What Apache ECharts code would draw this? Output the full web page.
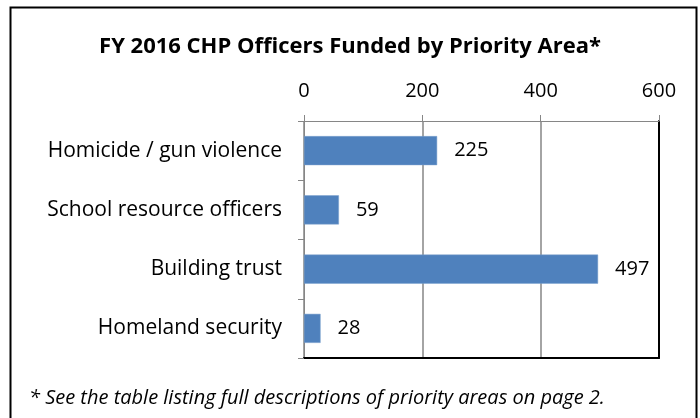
<!DOCTYPE html>
<html>
<head>
<meta charset="utf-8">
<script src="https://cdn.jsdelivr.net/npm/echarts@6/dist/echarts.min.js"></script>
<style>
  html, body { margin: 0; padding: 0; background: #fff; }
  #container { width: 700px; height: 418px; }
</style>
</head>
<body>
<div id="container"></div>
<script>
var categories = ['Homicide / gun violence', 'School resource officers', 'Building trust', 'Homeland security'];
var officers = [225, 59, 497, 28];
var xTicks = [0, 200, 400, 600];

var FONT = 'Open Sans';

var chart = echarts.init(document.getElementById('container'), null, { renderer: 'canvas' });

var option = {
  animation: false,
  backgroundColor: '#fff',
  title: {
    text: 'FY 2016 CHP Officers Funded by Priority Area*',
    left: 'center',
    top: 31,
    textStyle: { fontFamily: FONT, fontWeight: 'bold', fontSize: 22, color: '#000' }
  },
  graphic: [
    {
      type: 'rect',
      left: 8, top: 5,
      shape: { width: 686, height: 430 },
      style: { fill: 'none', stroke: '#000', lineWidth: 2 }
    },
    {
      type: 'text',
      left: 29, top: 388,
      style: {
        text: '* See the table listing full descriptions of priority areas on page 2.',
        font: 'italic 20px ' + FONT,
        fill: '#000'
      }
    }
  ],
  grid: { left: 304, right: 41, top: 121, bottom: 60, containLabel: false },
  xAxis: [
    {
      type: 'value',
      position: 'top',
      min: xTicks[0],
      max: xTicks[xTicks.length - 1],
      interval: 200,
      axisLine: { show: true, onZero: false, lineStyle: { color: '#868686' } },
      axisTick: { show: true, length: 6, lineStyle: { color: '#868686' } },
      axisLabel: { fontFamily: FONT, fontSize: 20, color: '#000', margin: 20 },
      splitLine: { show: true, lineStyle: { color: '#868686', width: 1.5 } }
    },
    {
      type: 'value',
      position: 'bottom',
      min: 0, max: 600,
      axisLine: { show: true, onZero: false, lineStyle: { color: '#000', width: 2 } },
      axisTick: { show: false },
      axisLabel: { show: false },
      splitLine: { show: false }
    }
  ],
  yAxis: [
    {
      type: 'category',
      inverse: true,
      data: categories,
      axisLine: { show: true, onZero: false, lineStyle: { color: '#868686' } },
      axisTick: { show: true, length: 6, lineStyle: { color: '#868686' } },
      axisLabel: { fontFamily: FONT, fontSize: 21, color: '#000', margin: 22 }
    },
    {
      type: 'category',
      position: 'right',
      inverse: true,
      data: categories,
      axisLine: { show: true, onZero: false, lineStyle: { color: '#000', width: 2 } },
      axisTick: { show: false },
      axisLabel: { show: false }
    }
  ],
  series: [
    {
      type: 'bar',
      data: officers,
      barCategoryGap: '51%',
      itemStyle: { color: '#4F81BD', borderColor: '#7BA0CD', borderWidth: 0.5 },
      label: {
        show: true,
        position: 'right',
        distance: 17,
        fontFamily: FONT,
        fontSize: 20,
        color: '#000'
      }
    }
  ]
};

chart.setOption(option);

window.addEventListener('resize', function () {
  chart.resize();
});
</script>
</body>
</html>
